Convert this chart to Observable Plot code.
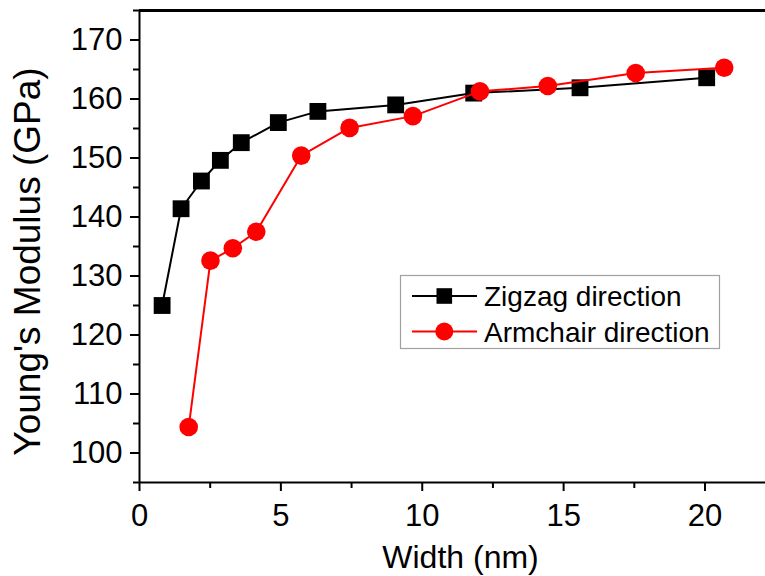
<!DOCTYPE html>
<html><head><meta charset="utf-8">
<script src="https://cdn.jsdelivr.net/npm/d3@7"></script>
<script src="https://cdn.jsdelivr.net/npm/@observablehq/plot@0.6"></script>
<style>
body{margin:0;background:#fff;}
#wrap{position:relative;width:765px;height:576px;overflow:hidden;}
</style>
</head><body><div id="wrap"></div>
<script>
// Data
const zigzagWidth    = [0.80, 1.47, 2.19, 2.86, 3.60, 4.91, 6.31, 9.06, 11.82, 15.58, 20.06];
const zigzagModulus  = [125.0, 141.4, 146.1, 149.6, 152.6, 156.0, 157.9, 159.0, 161.0, 161.9, 163.6];
const armchairWidth   = [1.74, 2.51, 3.30, 4.13, 5.72, 7.43, 9.67, 12.04, 14.44, 17.55, 20.68];
const armchairModulus = [104.4, 132.6, 134.7, 137.5, 150.4, 155.1, 157.1, 161.3, 162.2, 164.4, 165.3];

const xTicks = [0, 5, 10, 15, 20];
const xMinorTicks = [2.5, 7.5, 12.5, 17.5];
const yTicks = [100, 110, 120, 130, 140, 150, 160, 170];
const yMinorTicks = [95, 105, 115, 125, 135, 145, 155, 165, 175];

const xLabel = "Width (nm)";
const yLabel = "Young's Modulus (GPa)";
const legendLabels = ["Zigzag direction", "Armchair direction"];
const legendColors = ["#000000", "#ff0000"];
const legendSymbols = ["square", "circle"];

const zigzag = zigzagWidth.map((w, i) => ({width: w, modulus: zigzagModulus[i]}));
const armchair = armchairWidth.map((w, i) => ({width: w, modulus: armchairModulus[i]}));

const fontFamily = '"Liberation Sans", Arial, sans-serif';

const chart = Plot.plot({
  width: 765,
  height: 576,
  marginLeft: 139,
  marginRight: 0,
  marginTop: 10,
  marginBottom: 94,
  style: {fontFamily, color: "#000", background: "#fff", overflow: "visible"},
  x: {domain: [0, 22.14]},
  y: {domain: [95, 175]},
  marks: [
    Plot.axisX(xTicks, {tickSize: 9, tickPadding: 12, fontSize: 31, strokeWidth: 2, label: null, tickFormat: d => String(d)}),
    Plot.axisX(xMinorTicks, {tickSize: 6, strokeWidth: 2, label: null, tickFormat: () => ""}),
    Plot.axisY(yTicks, {tickSize: 9, tickPadding: 8, fontSize: 31, strokeWidth: 2, label: null, tickFormat: d => String(d)}),
    Plot.axisY(yMinorTicks, {tickSize: 6, strokeWidth: 2, label: null, tickFormat: () => ""}),
    Plot.ruleX([0], {stroke: "#000", strokeWidth: 2}),
    Plot.ruleY([95], {stroke: "#000", strokeWidth: 2}),
    Plot.ruleY([175], {stroke: "#000", strokeWidth: 3}),
    Plot.line(zigzag, {x: "width", y: "modulus", stroke: legendColors[0], strokeWidth: 2}),
    Plot.dot(zigzag, {x: "width", y: "modulus", symbol: legendSymbols[0], r: 9.5, fill: legendColors[0], stroke: "none"}),
    Plot.line(armchair, {x: "width", y: "modulus", stroke: legendColors[1], strokeWidth: 2}),
    Plot.dot(armchair, {x: "width", y: "modulus", symbol: legendSymbols[1], r: 9.3, fill: legendColors[1], stroke: "none"}),
    Plot.text([xLabel], {text: d => d, frameAnchor: "bottom", lineAnchor: "top", dy: 63, dx: 8, fontSize: 32, fill: "#000"}),
    Plot.text([yLabel], {text: d => d, frameAnchor: "left", rotate: -90, textAnchor: "middle", lineAnchor: "middle", dx: -111, dy: 15, fontSize: 37, fill: "#000"})
  ]
});
document.getElementById("wrap").appendChild(chart);

// Legend overlay (inside the plot area, as in the reference)
const leg = d3.select("#wrap").append("svg")
  .attr("width", 765).attr("height", 576)
  .style("position", "absolute").style("left", "0px").style("top", "0px")
  .style("pointer-events", "none");
leg.append("rect").attr("x", 400.5).attr("y", 275.5).attr("width", 319).attr("height", 73)
  .attr("fill", "#fff").attr("stroke", "#a0a0a0").attr("stroke-width", 1.2);
const rowY = [296, 331.5];
legendLabels.forEach((lab, i) => {
  const g = leg.append("g");
  g.append("line").attr("x1", 412).attr("x2", 477).attr("y1", rowY[i]).attr("y2", rowY[i])
    .attr("stroke", legendColors[i]).attr("stroke-width", 2);
  if (legendSymbols[i] === "square") {
    g.append("rect").attr("x", 444.3 - 7.8).attr("y", rowY[i] - 7.8).attr("width", 15.6).attr("height", 15.6)
      .attr("fill", legendColors[i]);
  } else {
    g.append("circle").attr("cx", 444.3).attr("cy", rowY[i]).attr("r", 9).attr("fill", legendColors[i]);
  }
  g.append("text").attr("x", 484).attr("y", rowY[i] + 10)
    .attr("font-family", fontFamily).attr("font-size", 28).attr("fill", "#000").text(lab);
});
</script>
</body></html>
